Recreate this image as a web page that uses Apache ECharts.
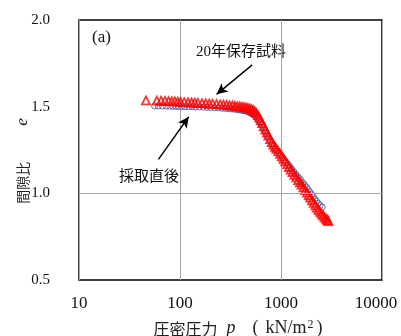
<!DOCTYPE html>
<html>
<head>
<meta charset="utf-8">
<script src="https://cdn.jsdelivr.net/npm/echarts@6/dist/echarts.min.js"></script>
<style>html,body{margin:0;padding:0;background:#fff;}#c{width:401px;height:336px;}</style>
</head>
<body>
<div id="c"></div>
<script>
// 採取直後 (blue circles)
const pBlue = [56,61,67,73,79,85,91,97,104,112,122,132,142,155,170,185,200,220,240,260,280,300,320,340,360,380,400,420,440,460,480,500,520,540,560,580,600,620,640,660,685,710,735,760,790,820,850,880,920,960,1000,1040,1080,1130,1180,1230,1280,1340,1400,1460,1520,1580,1650,1720,1790,1860,1930,2010,2090,2170,2250,2340,2440,2560];
const eBlue = [1.504,1.504,1.503,1.503,1.502,1.502,1.501,1.501,1.500,1.500,1.499,1.499,1.498,1.498,1.497,1.496,1.495,1.494,1.493,1.491,1.490,1.489,1.487,1.486,1.484,1.482,1.480,1.478,1.476,1.473,1.468,1.463,1.458,1.453,1.445,1.434,1.422,1.408,1.394,1.380,1.362,1.346,1.331,1.316,1.299,1.284,1.270,1.259,1.245,1.232,1.219,1.207,1.193,1.180,1.166,1.153,1.140,1.125,1.111,1.098,1.086,1.073,1.060,1.047,1.035,1.021,1.008,0.994,0.980,0.966,0.954,0.942,0.930,0.921];
// 20年保存試料 (red triangles)
const pRed = [46,59,65,71,77,83,89,95,101,110,120,130,140,150,165,180,195,210,230,250,270,290,310,330,350,370,390,410,430,450,470,490,510,530,550,570,590,610,630,650,675,700,725,750,780,810,840,870,900,940,980,1020,1060,1100,1150,1200,1250,1300,1360,1420,1480,1540,1600,1670,1740,1810,1880,1950,2030,2110,2190,2270,2350,2440,2530,2620,2710,2800,2880,2950];
const eRed = [1.536,1.535,1.534,1.533,1.532,1.531,1.530,1.529,1.527,1.526,1.525,1.524,1.523,1.522,1.520,1.519,1.518,1.517,1.515,1.513,1.512,1.510,1.508,1.507,1.505,1.503,1.501,1.499,1.497,1.495,1.492,1.489,1.485,1.480,1.473,1.463,1.451,1.437,1.421,1.405,1.386,1.368,1.350,1.333,1.313,1.296,1.281,1.268,1.257,1.242,1.228,1.214,1.199,1.185,1.168,1.152,1.137,1.123,1.107,1.092,1.077,1.064,1.051,1.035,1.019,1.004,0.989,0.975,0.960,0.945,0.930,0.917,0.905,0.893,0.882,0.871,0.861,0.853,0.846,0.840];
const xTicks = [10,100,1000,10000];
const yTicks = [0.5,1.0,1.5,2.0];

const serif = "'Liberation Serif','Times New Roman',serif";

const chart = echarts.init(document.getElementById('c'));
chart.setOption({
  animation: false,
  grid: {left: 79, right: 19, top: 20, bottom: 56, outerBoundsMode: 'none', containLabel: false,
    show: true, borderColor: '#000', borderWidth: 1.5, backgroundColor: 'transparent'},
  xAxis: {
    type: 'log', logBase: 10, min: xTicks[0], max: xTicks[xTicks.length-1],
    axisLine: {show: false}, axisTick: {show: false},
    splitLine: {show: true, lineStyle: {color: '#a6a6a6', width: 1}},
    axisLabel: {color: '#111', fontFamily: serif, fontSize: 17, margin: 15,
      formatter: v => Math.round(v) === xTicks[xTicks.length-1] ? '{m|' + Math.round(v) + '}' : String(Math.round(v)),
      rich: {m: {fontFamily: serif, fontSize: 17, color: '#111', padding: [0,12,0,0]}}},
    name: '{j|圧密圧力}{i|p}{r|(}{r2|kN/m}{s|2}{r3|)}',
    nameLocation: 'middle', nameGap: 39, nameMoveOverlap: false,
    nameTextStyle: {padding: [0,0,0,15], rich: {
      j: {fontFamily: "'Noto Sans CJK JP',sans-serif", fontSize: 16, color: '#222'},
      i: {fontFamily: serif, fontStyle: 'italic', fontSize: 18, color: '#222', padding: [0,0,0,9]},
      r: {fontFamily: serif, fontSize: 18, color: '#222', padding: [0,0,0,17]},
      r2: {fontFamily: serif, fontSize: 18, color: '#222', padding: [0,0,0,7]},
      s: {fontFamily: serif, fontSize: 12, color: '#222', verticalAlign: 'top', padding: [0,0,7,1]},
      r3: {fontFamily: serif, fontSize: 18, color: '#222', padding: [0,0,0,3]}
    }}
  },
  yAxis: {
    type: 'value', min: 0.5, max: 2.0, interval: 0.5,
    axisLine: {show: false}, axisTick: {show: false},
    splitLine: {show: false},
    axisLabel: {color: '#111', fontFamily: serif, fontSize: 15, margin: 29, formatter: v => v.toFixed(1)},
    name: '{j|間隙比}{i|e}',
    nameLocation: 'middle', nameGap: 48, nameRotate: 90, nameMoveOverlap: false,
    nameTextStyle: {rich: {
      j: {fontFamily: "'Noto Sans CJK JP',sans-serif", fontSize: 14, color: '#222'},
      i: {fontFamily: serif, fontStyle: 'italic', fontSize: 17, color: '#222', padding: [0,22,0,36]}
    }}
  },
  series: [
    {
      type: 'scatter', name: '採取直後',
      data: pBlue.map((p, i) => [p, eBlue[i]]),
      symbol: 'circle', symbolSize: 6,
      itemStyle: {color: 'transparent', borderColor: '#2f5597', borderWidth: 1},
      markLine: {silent: true, symbol: ['none','none'], label: {show: false},
        lineStyle: {color: '#a6a6a6', width: 1, type: 'solid'},
        data: [{yAxis: 1.0}]}
    },
    {
      type: 'scatter', name: '20年保存試料',
      data: pRed.map((p, i) => [p, eRed[i]]),
      symbol: 'triangle', symbolSize: 8,
      itemStyle: {color: 'transparent', borderColor: '#ff0000', borderWidth: 1.8}
    },
    {
      type: 'scatter', data: [],
      markLine: {silent: true, symbol: ['none','arrow'], symbolSize: [8, 11], label: {show: false},
        lineStyle: {color: '#000', width: 1.4, type: 'solid'},
        data: [
          [{coord: [519, 1.741]}, {coord: [230, 1.571]}],
          [{coord: [61.2, 1.196]}, {coord: [122, 1.442]}]
        ]}
    }
  ],
  graphic: [
    {type: 'text', left: 92, top: 29, style: {text: '(a)', font: "17px 'Liberation Serif'", fill: '#111'}},
    {type: 'text', x: 241, y: 52, style: {text: '20年保存試料', font: "15px 'Liberation Serif','Noto Sans CJK JP'", fill: '#111', align: 'center', verticalAlign: 'middle'}},
    {type: 'text', x: 149, y: 175, style: {text: '採取直後', font: "15px 'Noto Sans CJK JP'", fill: '#111', align: 'center', verticalAlign: 'middle'}}
  ]
});
</script>
</body>
</html>
